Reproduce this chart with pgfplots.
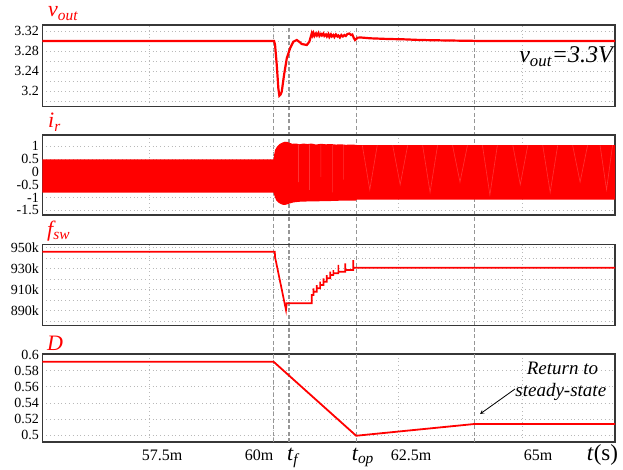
\documentclass[border=0pt]{standalone}
\usepackage{fontspec}
\setmainfont{Liberation Serif}
\usepackage{pgfplots}
\pgfplotsset{compat=1.18}
\definecolor{framec}{RGB}{55,55,55}
\definecolor{gridc}{RGB}{185,185,185}
\definecolor{dashc}{RGB}{150,150,150}
\definecolor{myred}{RGB}{255,0,0}
\definecolor{streak}{RGB}{255,95,95}
\tikzset{dashline/.style={dashc, line width=1.1pt, dash pattern=on 4pt off 2.5pt}}
\pgfplotsset{
  panel/.style={
    scale only axis, width=572.7pt, xmin=55.36, xmax=66.85,
    axis line style={framec, line width=1.3pt},
    xtick={57.5,60,62.5,65}, xticklabels={},
    major tick length=0pt, minor tick length=0pt,
    xmajorgrids, ymajorgrids, yminorgrids,
    grid style={gridc, line width=0.8pt, dash pattern=on 0.8pt off 3pt},
    minor grid style={gridc, line width=0.8pt, dash pattern=on 0.8pt off 3pt},
    tick label style={font=\fontsize{14}{14}\selectfont},
    /pgf/number format/assume math mode=true,
    anchor=south west,
  },
}
\begin{document}
\begin{tikzpicture}
% ---------------- D panel (drawn first, carries the dashed guides)
\begin{axis}[panel, at={(42.3pt,27pt)}, height=88pt,
  ymin=0.4913, ymax=0.6009,
  ytick={0.5,0.52,0.54,0.56,0.58,0.6},
  yticklabels={0.5,0.52,0.54,0.56,0.58,0.6},
  clip=false]
\draw[dashline] (axis cs:60,0.4913) -- ++(0pt,417pt);
\draw[dashline] (axis cs:60.31,0.4913) -- ++(0pt,417pt);
\draw[dashline] (axis cs:61.657,0.4913) -- ++(0pt,417pt);
\draw[dashline] (axis cs:64.026,0.4913) -- ++(0pt,417pt);
\addplot[myred, line width=1.8pt] coordinates {
(55.36,0.5913) (60.0,0.5913) (61.657,0.4991) (64.026,0.5137) (66.85,0.5137)};
\end{axis}
% ---------------- fsw panel
\begin{axis}[panel, at={(42.3pt,143.7pt)}, height=80.6pt,
  ymin=876.2, ymax=952.5,
  ytick={890,910,930,950}, yticklabels={890k,910k,930k,950k},
  minor ytick={880,900,920,940}]
\addplot[myred, line width=1.7pt] coordinates {
(55.36,945.8) (60.0,945.8) (60.025,945.8) (60.029,941) (60.249,890.7) (60.263,897)
(60.765,897) (60.767,904.9) (60.80,904.9) (60.80,911.2) (60.80,908)
(60.867,908) (60.867,914.3) (60.867,911.2) (60.934,911.2) (60.934,917.5) (60.934,914.3)
(61.0,914.3) (61.0,920.7) (61.0,917.5) (61.068,917.5) (61.068,923.8) (61.068,920.7)
(61.135,920.7) (61.135,926.9) (61.135,923.8) (61.2,923.8) (61.2,928.5) (61.2,925.4)
(61.30,925.4) (61.30,933.3) (61.30,926.9) (61.436,926.9) (61.436,934.9) (61.436,928.5)
(61.60,928.5) (61.60,938) (61.60,930.7) (66.85,930.7)};
\end{axis}
% ---------------- ir panel
\begin{axis}[panel, at={(42.3pt,254pt)}, height=80pt,
  ymin=-1.681, ymax=1.432,
  ytick={-1.5,-1,-0.5,0,0.5,1}, yticklabels={-1.5,-1,-0.5,0,0.5,1},
  unbounded coords=jump]
\addplot[fill=myred, draw=none] coordinates {
(55.36,0.486) (60.0,0.486) (60.005,0.6) (60.03,0.85) (60.07,0.98) (60.12,1.08)
(60.18,1.14) (60.23,1.17) (60.28,1.16) (60.33,1.12) (60.38,1.09) (60.45,1.1)
(60.52,1.07) (60.6,1.1) (60.68,1.08) (60.76,1.1) (60.85,1.06) (60.95,1.09)
(61.05,1.07) (61.15,1.08) (61.25,1.06) (61.35,1.07) (61.45,1.05) (61.55,1.06)
(61.65,1.05) (61.67,1.04) (66.85,1.04)
(66.85,-1.08) (61.67,-1.08) (61.65,-1.12) (61.4,-1.12) (61.1,-1.14) (60.8,-1.15)
(60.55,-1.16) (60.4,-1.19) (60.33,-1.23) (60.25,-1.28) (60.2,-1.29) (60.15,-1.26)
(60.1,-1.2) (60.05,-1.1) (60.02,-0.95) (60.0,-0.813) (55.36,-0.813)} -- cycle;
% lighter aliasing streaks inside the band
\addplot[streak, line width=0.6pt, opacity=0.55] coordinates {
(60.50,1.06) (60.50,-0.4) (60.50,nan)
(60.72,1.06) (60.72,-0.7) (60.72,nan)
(60.95,1.06) (60.95,-0.2) (60.95,nan)
(61.18,1.05) (61.18,-0.8) (61.18,nan)
(61.40,1.05) (61.40,-0.3) (61.40,nan)
(61.78,1.03) (61.93,-0.7) (62.08,1.03) (62.08,nan)
(62.39,1.03) (62.54,-0.5) (62.69,1.03) (62.69,nan)
(62.99,1.03) (63.14,-0.8) (63.29,1.03) (63.29,nan)
(63.59,1.03) (63.74,-0.4) (63.89,1.03) (63.89,nan)
(64.19,1.03) (64.34,-0.9) (64.49,1.03) (64.49,nan)
(64.80,1.03) (64.95,-0.5) (65.10,1.03) (65.10,nan)
(65.40,1.03) (65.55,-0.8) (65.70,1.03) (65.70,nan)
(66.00,1.03) (66.15,-0.4) (66.30,1.03) (66.30,nan)
(66.55,1.03) (66.68,-0.7) (66.80,1.03)};
\end{axis}
% ---------------- vout panel
\begin{axis}[panel, at={(42.3pt,362.3pt)}, height=81.7pt,
  ymin=3.1686, ymax=3.332,
  ytick={3.2,3.24,3.28,3.32}, yticklabels={3.2,3.24,3.28,3.32},
  minor ytick={3.18,3.22,3.26,3.30}]
\addplot[myred, line width=2.2pt] coordinates {
(55.36,3.300) (60.00,3.300) (60.01,3.300) (60.03,3.292) (60.064,3.252) (60.096,3.205)
(60.116,3.1906) (60.14,3.193) (60.164,3.1986) (60.21,3.232) (60.265,3.2654)
(60.331,3.2854) (60.397,3.2986) (60.465,3.302) (60.52,3.298) (60.566,3.294)
(60.666,3.292) (60.718,3.2986) (60.745,3.308) (60.766,3.3154)
(60.78,3.311) (60.80,3.316) (60.82,3.310) (60.85,3.315) (60.87,3.311) (60.90,3.316)
(60.92,3.310) (60.95,3.314) (60.97,3.311) (61.00,3.315) (61.02,3.310) (61.05,3.313)
(61.07,3.309) (61.10,3.314) (61.12,3.308) (61.15,3.313) (61.17,3.309) (61.20,3.312)
(61.22,3.308) (61.25,3.313) (61.28,3.309) (61.30,3.311) (61.33,3.307) (61.36,3.312)
(61.39,3.309) (61.42,3.312) (61.45,3.310) (61.48,3.314) (61.52,3.315) (61.55,3.312)
(61.58,3.313) (61.61,3.306) (61.635,3.302) (61.66,3.304) (61.68,3.3066) (61.75,3.307)
(61.94,3.3054) (62.3,3.304) (62.6,3.3034) (62.94,3.302) (63.5,3.301) (64.2,3.300)
(66.85,3.300)};
\end{axis}
% ---------------- texts
\node[anchor=base west, text=myred, font=\fontsize{22}{22}\selectfont\itshape, inner sep=0pt] at (48pt,452pt) {v\textsubscript{out}};
\node[anchor=base west, text=myred, font=\fontsize{22}{22}\selectfont\itshape, inner sep=0pt] at (48pt,341pt) {i\textsubscript{r}};
\node[anchor=base west, text=myred, font=\fontsize{22}{22}\selectfont\itshape, inner sep=0pt] at (47pt,233pt) {f\textsubscript{sw}};
\node[anchor=base west, text=myred, font=\fontsize{22}{22}\selectfont\itshape, inner sep=0pt] at (47pt,119pt) {D};
\node[anchor=base east, font=\fontsize{24}{24}\selectfont\itshape, inner sep=0pt] at (613pt,406pt) {v\textsubscript{out}=3.3V};
\node[anchor=base, font=\fontsize{19}{19}\selectfont\itshape, inner sep=0pt] at (562.5pt,95pt) {Return to};
\node[anchor=base, font=\fontsize{19}{19}\selectfont\itshape, inner sep=0pt] at (560.8pt,72.3pt) {steady-state};
\draw[-stealth, line width=0.8pt] (515pt,80pt) -- (480pt,55pt);
\node[anchor=base, font=\fontsize{16}{16}\selectfont, inner sep=0pt] at (162pt,8.3pt) {57.5m};
\node[anchor=base, font=\fontsize{16}{16}\selectfont, inner sep=0pt] at (259pt,8.3pt) {60m};
\node[anchor=base, font=\fontsize{16}{16}\selectfont, inner sep=0pt] at (411pt,8.3pt) {62.5m};
\node[anchor=base, font=\fontsize{16}{16}\selectfont, inner sep=0pt] at (538pt,8.3pt) {65m};
\node[anchor=base west, font=\fontsize{22}{22}\selectfont\itshape, inner sep=0pt] at (287pt,8.3pt) {t\textsubscript{f}};
\node[anchor=base west, font=\fontsize{22}{22}\selectfont\itshape, inner sep=0pt] at (351.7pt,8.3pt) {t\textsubscript{op}};
\node[anchor=base west, font=\fontsize{23}{23}\selectfont, inner sep=0pt] at (586.7pt,8.3pt) {\textit{t}(s)};
\pgfresetboundingbox
\useasboundingbox (0pt,0pt) rectangle (623pt,469pt);
\end{tikzpicture}
\end{document}
